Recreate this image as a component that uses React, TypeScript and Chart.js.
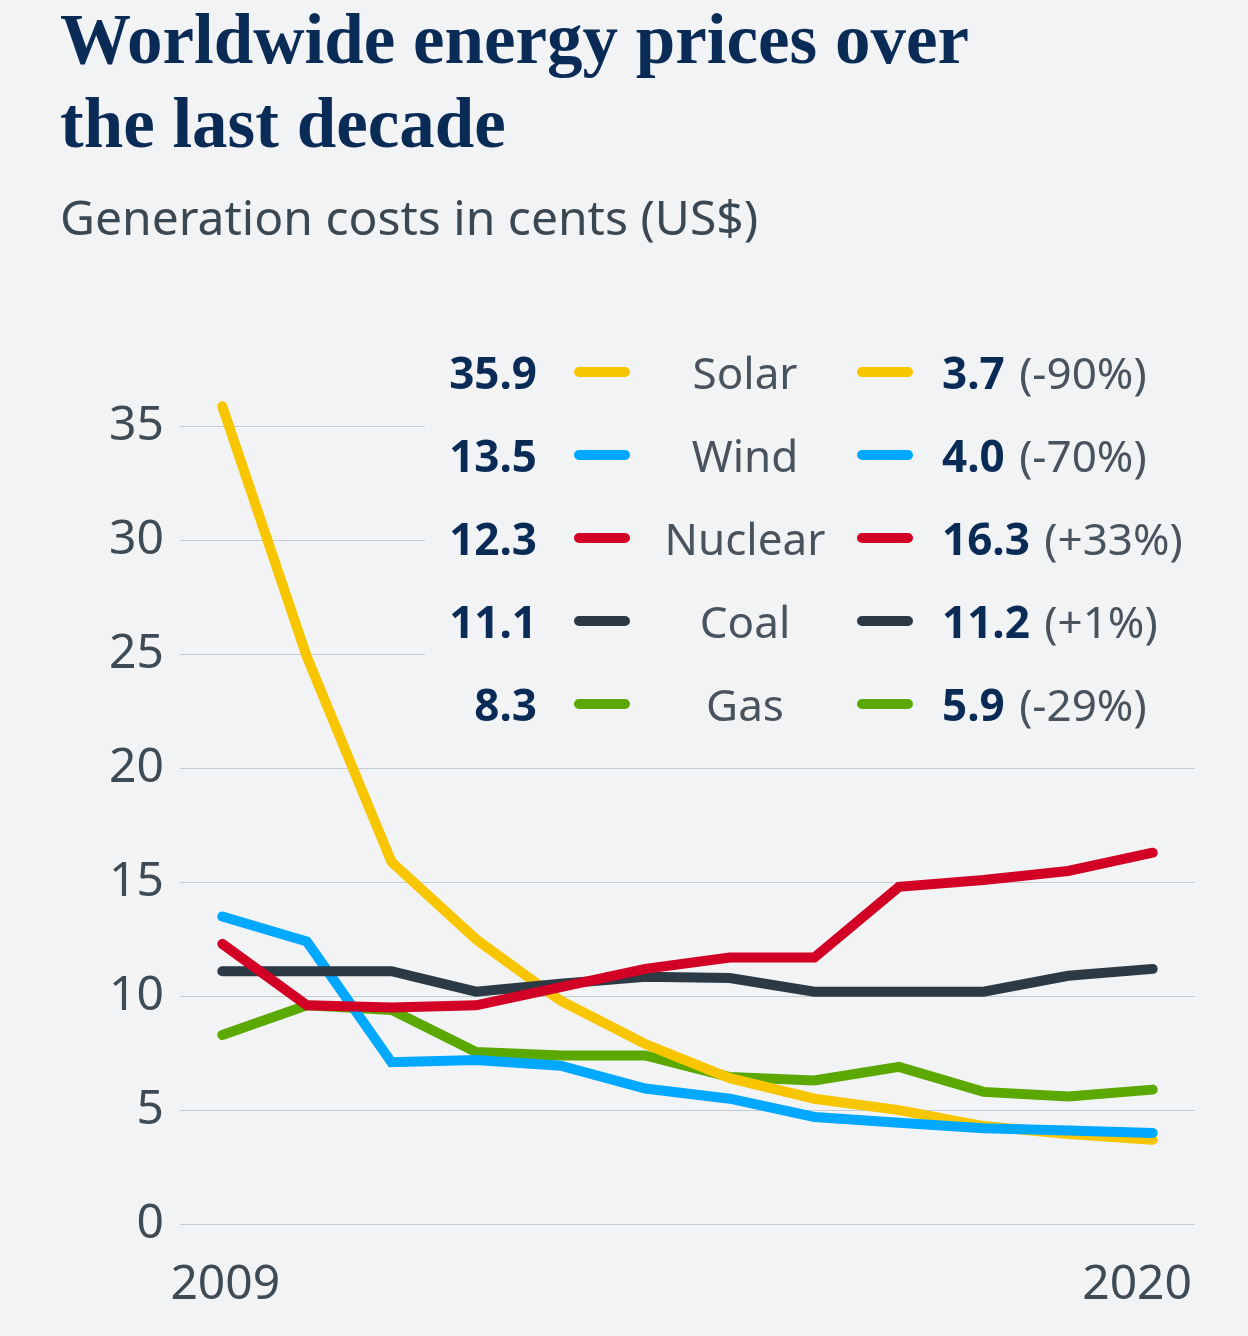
import React, { useEffect, useRef } from "react";
import { Chart, registerables } from "chart.js";

Chart.register(...registerables);

// ---- data ----
const years = ["2009", "2010", "2011", "2012", "2013", "2014", "2015", "2016", "2017", "2018", "2019", "2020"];
const solar = [35.9, 24.9, 15.9, 12.5, 9.8, 7.9, 6.4, 5.5, 5.0, 4.3, 3.95, 3.7];
const wind = [13.5, 12.4, 7.1, 7.2, 6.95, 5.95, 5.5, 4.7, 4.45, 4.2, 4.1, 4.0];
const nuclear = [12.3, 9.6, 9.5, 9.6, 10.4, 11.2, 11.7, 11.7, 14.8, 15.1, 15.5, 16.3];
const coal = [11.1, 11.1, 11.1, 10.2, 10.55, 10.85, 10.8, 10.2, 10.2, 10.2, 10.9, 11.2];
const gas = [8.3, 9.6, 9.4, 7.55, 7.4, 7.4, 6.45, 6.3, 6.9, 5.8, 5.6, 5.9];

const seriesNames = ["Solar", "Wind", "Nuclear", "Coal", "Gas"];
const seriesData = [solar, wind, nuclear, coal, gas];
const seriesColors = ["#f8c600", "#00a8ff", "#d10024", "#2c3a45", "#5ba800"];
const drawOrder = [3, 2, 0, 1, 4];
const changeLabels = ["(-90%)", "(-70%)", "(+33%)", "(+1%)", "(-29%)"];
const yTicks = [0, 5, 10, 15, 20, 25, 30, 35];
const xTickLabels = ["2009", "2020"];

const TITLE = ["Worldwide energy prices over", "the last decade"];
const SUBTITLE = "Generation costs in cents (US$)";

const BG = "#f1f3f5";
const NAVY = "#0b2b57";
const GRAY = "#3e4a54";
const FONT = "'Noto Sans', 'Open Sans', sans-serif";

const overlayPlugin = {
  id: "overlay",
  beforeDatasetsDraw(chart: any) {
    const ctx = chart.ctx;
    ctx.save();
    ctx.fillStyle = BG;
    ctx.fillRect(425, 0, chart.width - 425, 745);
    ctx.restore();
  },
  afterDraw(chart: any) {
    const ctx = chart.ctx;
    const xs = chart.scales.x;
    const area = chart.chartArea;
    ctx.save();
    // x labels
    ctx.fillStyle = GRAY;
    ctx.font = `48px ${FONT}`;
    ctx.textBaseline = "alphabetic";
    ctx.textAlign = "center";
    ctx.fillText(xTickLabels[0], xs.getPixelForValue(0) + 3, 1299);
    ctx.textAlign = "right";
    ctx.fillText(xTickLabels[1], area.right - 3, 1299);

    // legend table
    const y0 = 389;
    const dy = 83;
    seriesNames.forEach((name, i) => {
      const base = y0 + dy * i;
      const data = seriesData[i];
      const first = data[0].toFixed(1);
      const last = data[data.length - 1].toFixed(1);
      ctx.font = `bold 44px ${FONT}`;
      ctx.fillStyle = NAVY;
      ctx.textAlign = "right";
      ctx.fillText(first, 537, base);

      ctx.strokeStyle = seriesColors[i];
      ctx.lineWidth = 10;
      ctx.lineCap = "round";
      ctx.beginPath();
      ctx.moveTo(579, base - 17);
      ctx.lineTo(625, base - 17);
      ctx.moveTo(862, base - 17);
      ctx.lineTo(908, base - 17);
      ctx.stroke();

      ctx.font = `44px ${FONT}`;
      ctx.fillStyle = "#48535d";
      ctx.textAlign = "center";
      ctx.fillText(name, 745, base);

      ctx.font = `bold 44px ${FONT}`;
      ctx.fillStyle = NAVY;
      ctx.textAlign = "left";
      ctx.fillText(last, 942, base);
      const w = ctx.measureText(last + " ").width;
      ctx.font = `44px ${FONT}`;
      ctx.fillStyle = "#48535d";
      ctx.fillText(changeLabels[i], 942 + w + 3, base);
    });
    ctx.restore();
  },
};

export default function App() {
  const canvasRef = useRef<HTMLCanvasElement | null>(null);

  useEffect(() => {
    document.body.style.margin = "0";
    document.body.style.background = BG;
    const canvas = canvasRef.current;
    if (!canvas) return;
    const chart = new Chart(canvas, {
      type: "line",
      data: {
        labels: years,
        datasets: seriesNames.map((name, i) => ({
          label: name,
          data: seriesData[i],
          borderColor: seriesColors[i],
          backgroundColor: seriesColors[i],
          borderWidth: 10,
          borderCapStyle: "round",
          borderJoinStyle: "miter",
          pointRadius: 0,
          pointHoverRadius: 0,
          tension: 0,
          fill: false,
          clip: false,
          order: drawOrder[i],
        })),
      } as any,
      options: {
        responsive: false,
        animation: false,
        devicePixelRatio: 1,
        events: [],
        layout: { padding: { left: 0, right: 53, top: 404, bottom: 112 } },
        plugins: {
          legend: { display: false },
          tooltip: { enabled: false },
          title: { display: false },
        },
        scales: {
          x: {
            type: "category",
            offset: true,
            display: false,
          },
          y: {
            min: 0,
            max: 36,
            afterBuildTicks: (s: any) => {
              s.ticks = yTicks.map((v) => ({ value: v }));
            },
            afterFit: (s: any) => {
              s.width = 180;
            },
            grid: { color: "#c3cbd3", lineWidth: 1, drawTicks: false },
            border: { display: false },
            ticks: {
              padding: 16,
              color: GRAY,
              font: { family: FONT, size: 48 },
              callback: (v: any) => String(v),
            },
          },
        } as any,
      },
      plugins: [overlayPlugin],
    });
    return () => chart.destroy();
  }, []);

  return (
    <div
      style={{
        position: "absolute",
        left: 0,
        top: 0,
        width: 1248,
        height: 1336,
        background: BG,
        overflow: "hidden",
      }}
    >
      <canvas
        ref={canvasRef}
        width={1248}
        height={1336}
        style={{ position: "absolute", left: 0, top: 0, display: "block" }}
      />
      <div
        style={{
          position: "absolute",
          left: 60,
          top: -3,
          fontFamily: "'Liberation Serif', serif",
          fontWeight: "bold",
          fontSize: 71,
          lineHeight: "84px",
          color: NAVY,
          whiteSpace: "nowrap",
        }}
      >
        {TITLE[0]}
        <br />
        {TITLE[1]}
      </div>
      <div
        style={{
          position: "absolute",
          left: 60,
          top: 193,
          fontFamily: FONT,
          fontSize: 48,
          lineHeight: "48px",
          color: "#3b4751",
          whiteSpace: "nowrap",
        }}
      >
        {SUBTITLE}
      </div>
    </div>
  );
}
